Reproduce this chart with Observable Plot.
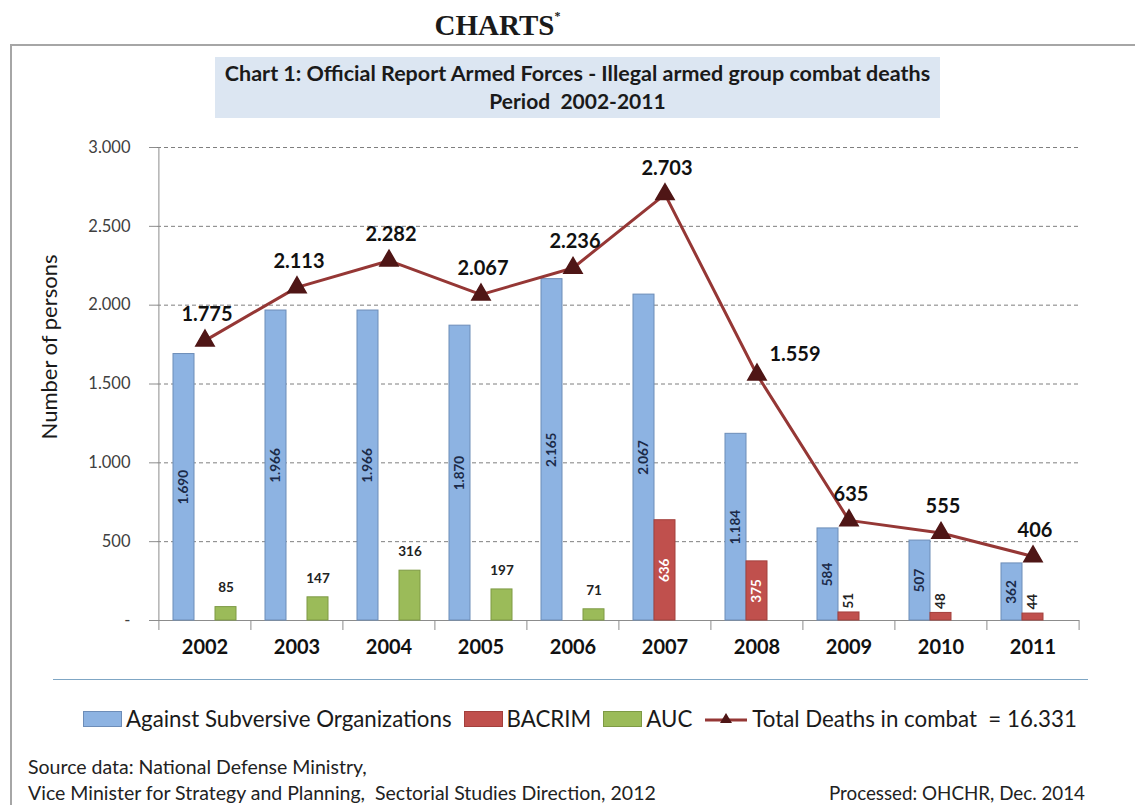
<!DOCTYPE html>
<html><head><meta charset="utf-8">
<script src="https://cdn.jsdelivr.net/npm/d3@7"></script>
<script src="https://cdn.jsdelivr.net/npm/@observablehq/plot@0.6"></script>
<style>
body{margin:0;background:#fff;}
#page{position:relative;width:1135px;height:805px;overflow:hidden;font-family:Lato,"Open Sans",sans-serif;color:#1a1a1a;}
#charts{position:absolute;left:0;width:995px;top:9px;text-align:center;font-family:"Liberation Serif","Times New Roman",serif;font-weight:bold;font-size:29px;letter-spacing:0;}
#charts sup{font-size:12px;vertical-align:top;position:relative;top:0px;}
#frame{position:absolute;left:10px;top:44px;width:1140px;height:780px;border-top:2px solid #a6a6a6;border-left:2px solid #a6a6a6;}
#titlebox{position:absolute;left:215px;top:57px;width:725px;height:61px;background:#dce6f2;text-align:center;font-weight:bold;font-size:21.5px;line-height:27px;padding-top:3px;box-sizing:border-box;}
#titlebox .l2{font-size:21px;}
#ylabel{position:absolute;left:48px;top:347px;transform:translate(-50%,-50%) rotate(-90deg);white-space:nowrap;font-size:22px;}
#sep{position:absolute;left:53px;top:679px;width:1035px;height:0;border-top:1.5px solid #7fa6c4;}
#legend{position:absolute;left:83px;top:705px;display:flex;align-items:center;font-size:22.3px;white-space:nowrap;}
#legend .sw{width:39px;height:16px;box-sizing:border-box;margin-right:4px;}
#legend .item{display:flex;align-items:center;margin-right:12px;}
#legend svg{margin-right:4px;}
.src{position:absolute;font-size:19.5px;white-space:nowrap;color:#222;}
#plot{position:absolute;left:0;top:130px;}
</style></head><body><div id="page">
<div id="charts">CHARTS<sup>*</sup></div>
<div id="frame"></div>
<div id="titlebox"></div>
<div id="ylabel"></div>
<div id="plot"></div>
<div id="sep"></div>
<div id="legend"></div>
<div class="src" id="src1" style="left:28px;top:755px;"></div>
<div class="src" id="src2" style="left:28px;top:781px;"></div>
<div class="src" id="src3" style="right:50px;top:781px;font-size:18.8px;"></div>
</div>
<script>
// ---- data ----
const years = ["2002","2003","2004","2005","2006","2007","2008","2009","2010","2011"];
const subversive = [1690,1966,1966,1870,2165,2067,1184,584,507,362];
const bacrim = [0,0,0,0,0,636,375,51,48,44];
const auc = [85,147,316,197,71,0,0,0,0,0];
const totals = [1775,2113,2282,2067,2236,2703,1559,635,555,406];
const yTicks = [0,500,1000,1500,2000,2500,3000];
const seriesNames = ["Against Subversive Organizations","BACRIM","AUC"];
const lineName = "Total Deaths in combat\u00a0 = 16.331";
const titleLines = ["Chart 1: Official Report Armed Forces - Illegal armed group combat deaths","Period\u00a0 2002-2011"];
const yLabel = "Number of persons";
const sources = ["Source data: National Defense Ministry,","Vice Minister for Strategy and Planning,\u00a0 Sectorial Studies Direction, 2012","Processed: OHCHR, Dec. 2014"];

// ---- styles ----
const colors = {sub:"#8db3e2", subStroke:"#6d8db8", bac:"#c0504d", bacStroke:"#a3403d", auc:"#9bbb59", aucStroke:"#7e9a45", line:"#953735", marker:"#4f1616"};

const data = years.map((year,i)=>({year, sub:subversive[i], bac:bacrim[i], auc:auc[i], total:totals[i]}));
const fmt = d3.formatLocale({decimal:",", thousands:".", grouping:[3], currency:["",""]}).format(",d");

document.getElementById("titlebox").innerHTML = `<div>${titleLines[0]}</div><div class="l2">${titleLines[1]}</div>`;
document.getElementById("ylabel").textContent = yLabel;
["src1","src2","src3"].forEach((id,i)=>document.getElementById(id).textContent = sources[i]);

const W = 1135, mL = 157, mR = 56;
const step = (W - mL - mR) / years.length;
const off = 21;

const chart = Plot.plot({
  width: W, height: 540,
  marginLeft: mL, marginRight: mR, marginTop: 17, marginBottom: 50,
  style: {fontFamily: "Lato, 'Open Sans', sans-serif", background: "transparent", overflow: "visible"},
  x: {type: "band", domain: years, paddingInner: 0.772, paddingOuter: 0.386, axis: null, label: null},
  y: {domain: [0, 3000], axis: null, label: null},
  marks: [
    Plot.gridY(yTicks.filter(d=>d>0), {stroke:"#7f7f7f", strokeOpacity:1, strokeDasharray:"4,3"}),
    Plot.axisY(yTicks, {tickSize:8, tickPadding:19, tickFormat: d => d === 0 ? "-" : fmt(d), fontSize:16.5, fill:"#404040", stroke:"#8c8c8c", label:null}),
    Plot.ruleX([years[0]], {y1:0, y2:3000, dx:-step/2, stroke:"#8c8c8c"}),
    Plot.ruleY([0], {stroke:"#8c8c8c"}),
    Plot.axisX(years, {tickSize:10, tickFormat: () => "", dx:-step/2, stroke:"#8c8c8c", label:null}),
    Plot.axisX([years[years.length-1]], {tickSize:10, tickFormat: () => "", dx:step/2, stroke:"#8c8c8c", label:null}),
    Plot.axisX(years, {tickSize:0, tickPadding:19, fontSize:20, fontWeight:"bold", fill:"#111", label:null}),
    Plot.barY(data.filter(d=>d.sub>0), {x:"year", y:"sub", fill:colors.sub, stroke:colors.subStroke, strokeWidth:1, dx:-off}),
    Plot.barY(data.filter(d=>d.bac>0), {x:"year", y:"bac", fill:colors.bac, stroke:colors.bacStroke, strokeWidth:1}),
    Plot.barY(data.filter(d=>d.auc>0), {x:"year", y:"auc", fill:colors.auc, stroke:colors.aucStroke, strokeWidth:1, dx:off}),
    Plot.text(data.filter(d=>d.sub>0), {x:"year", y:d=>d.sub/2, text:d=>fmt(d.sub), rotate:-90, dx:-off, fontSize:13.5, fontWeight:"bold", fill:"#1b2a48"}),
    Plot.text(data.filter(d=>d.bac>=100), {x:"year", y:d=>d.bac/2, text:d=>fmt(d.bac), rotate:-90, fontSize:13.5, fontWeight:"bold", fill:"#fff"}),
    Plot.text(data.filter(d=>d.bac>0 && d.bac<100), {x:"year", y:"bac", text:d=>fmt(d.bac), rotate:-90, textAnchor:"start", dy:-4, fontSize:13.5, fontWeight:"bold", fill:"#222"}),
    Plot.text(data.filter(d=>d.auc>0), {x:"year", y:"auc", text:d=>fmt(d.auc), dx:off, dy:-19, fontSize:13.5, fontWeight:"bold", fill:"#222"}),
    Plot.lineY(data, {x:"year", y:"total", stroke:colors.line, strokeWidth:3}),
    Plot.dot(data, {x:"year", y:"total", symbol:"triangle", r:6.8, fill:colors.marker, stroke:colors.marker}),
    Plot.text(data.filter(d=>d.year!=="2008"), {x:"year", y:"total", text:d=>fmt(d.total), dx:2, dy:-26, fontSize:20, fontWeight:"bold", fill:"#111"}),
    Plot.text(data.filter(d=>d.year==="2008"), {x:"year", y:"total", text:d=>fmt(d.total), dx:38, dy:-20, fontSize:20, fontWeight:"bold", fill:"#111"})
  ]
});
document.getElementById("plot").appendChild(chart);

// legend
const legend = document.getElementById("legend");
const sw = [[colors.sub, colors.subStroke],[colors.bac, colors.bacStroke],[colors.auc, colors.aucStroke]];
seriesNames.forEach((name,i)=>{
  const it = document.createElement("div"); it.className = "item";
  it.innerHTML = `<div class="sw" style="background:${sw[i][0]};border:1px solid ${sw[i][1]}"></div><span>${name}</span>`;
  legend.appendChild(it);
});
const li = document.createElement("div"); li.className = "item";
li.innerHTML = `<svg width="44" height="20"><line x1="1" x2="43" y1="11" y2="11" stroke="${colors.line}" stroke-width="3"/><path d="M22,4 L28,14 L16,14 Z" fill="${colors.marker}"/></svg><span>${lineName}</span>`;
legend.appendChild(li);
</script>
</body></html>
